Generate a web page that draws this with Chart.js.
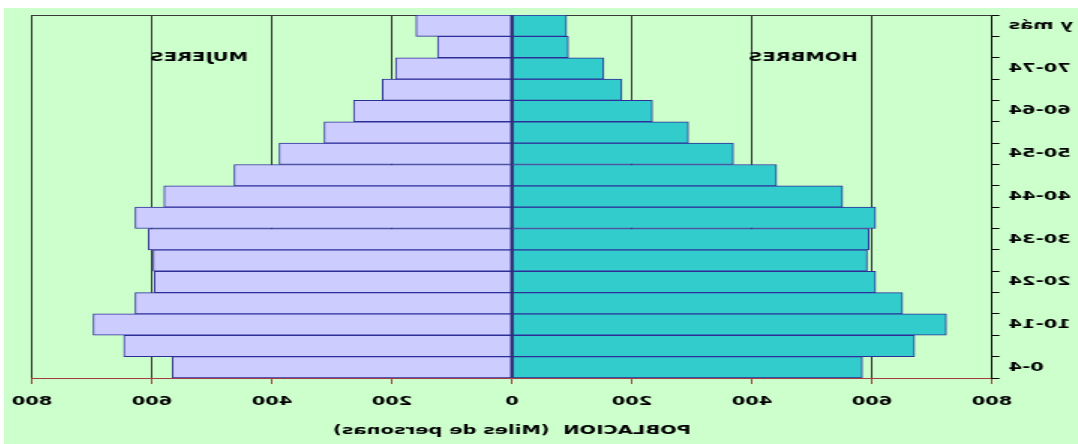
<!DOCTYPE html>
<html lang="es">
<head>
<meta charset="utf-8">
<title>Pirámide de población</title>
<script src="https://cdn.jsdelivr.net/npm/chart.js@4.4.1/dist/chart.umd.min.js"></script>
<style>
  html, body { margin: 0; padding: 0; background: #fff; overflow: hidden; }
  /* the reference is a mirrored, horizontally stretched scan: reproduce that with a transform */
  #wrap {
    position: absolute; top: 8px; left: 4px;
    width: 716px; height: 436px;
    background: #ccffcc;
    transform-origin: 0 0;
    transform: translateX(1074px) scaleX(-1.5);
  }
  canvas { display: block; }
</style>
</head>
<body>
<div id="wrap"><canvas id="pyramid" width="716" height="436"></canvas></div>
<script>
const ageGroups = ['0-4', '5-9', '10-14', '15-19', '20-24', '25-29', '30-34', '35-39', '40-44',
  '45-49', '50-54', '55-59', '60-64', '65-69', '70-74', '75-79', '80 y más'];
const hombres = [584, 671, 724, 651, 606, 592, 595, 606, 551, 441, 369, 294, 234, 183, 153, 94, 91];
const mujeres = [566, 647, 698, 628, 596, 598, 606, 628, 580, 463, 388, 313, 264, 216, 194, 124, 160];
const sexLabels = ['HOMBRES', 'MUJERES'];
const xMin = -800, xMax = 800, xStep = 200;
const axisTitle = 'POBLACION  (Miles de personas)';

const FONT = { family: '"DejaVu Sans", Verdana, sans-serif', size: 13, weight: 'bold' };

// top frame line + the HOMBRES / MUJERES captions
const framePlugin = {
  id: 'frame',
  beforeDatasetsDraw(chart) {
    const { ctx, chartArea, scales } = chart;
    ctx.save();
    ctx.strokeStyle = '#3a3a3a';
    ctx.lineWidth = 1;
    ctx.beginPath();
    ctx.moveTo(chartArea.left, chartArea.top + 0.5);
    ctx.lineTo(chartArea.right, chartArea.top + 0.5);
    ctx.stroke();

    ctx.font = 'bold 13px "DejaVu Sans", Verdana, sans-serif';
    ctx.fillStyle = '#000';
    ctx.textAlign = 'center';
    ctx.textBaseline = 'middle';
    const yPos = scales.y.getPixelForValue(14.5);
    ctx.fillText(sexLabels[0], scales.x.getPixelForValue(-485), yPos);
    ctx.fillText(sexLabels[1], scales.x.getPixelForValue(522), yPos);
    ctx.restore();
  }
};

new Chart(document.getElementById('pyramid'), {
  type: 'bar',
  data: {
    labels: ageGroups,
    datasets: [{
      label: 'Hombres',
      data: hombres.map(v => -v),
      backgroundColor: '#33cccc',
      borderColor: '#2e2e99',
      borderWidth: 1,
      borderSkipped: false,
      barPercentage: 1,
      categoryPercentage: 1
    }, {
      label: 'Mujeres',
      data: mujeres,
      backgroundColor: '#ccccff',
      borderColor: '#2e2e99',
      borderWidth: 1,
      borderSkipped: false,
      barPercentage: 1,
      categoryPercentage: 1
    }]
  },
  options: {
    indexAxis: 'y',
    responsive: false,
    animation: false,
    layout: { padding: { top: 7, right: 18.7, bottom: 0, left: 0 } },
    plugins: { legend: { display: false }, tooltip: { enabled: false } },
    scales: {
      x: {
        stacked: true,
        min: xMin,
        max: xMax,
        afterFit: (s) => { s.height = 66; s.paddingLeft = 0; s.paddingRight = 0; },
        grid: { color: '#333333', tickColor: '#a04040', tickLength: 6 },
        border: { color: '#a04040', width: 1 },
        ticks: {
          stepSize: xStep,
          padding: 10,
          color: '#000',
          font: FONT,
          callback: (v) => Math.abs(v)
        },
        title: {
          display: true,
          text: axisTitle,
          color: '#000',
          font: FONT,
          padding: { top: 0, bottom: 6 }
        }
      },
      y: {
        stacked: true,
        reverse: true,
        afterFit: (s) => { s.width = 57.3; s.paddingTop = 0; s.paddingBottom = 0; },
        grid: { drawOnChartArea: false, tickColor: '#000', tickLength: 5 },
        border: { color: '#000', width: 1 },
        ticks: {
          autoSkip: false,
          padding: 6,
          color: '#000',
          font: FONT,
          callback: (v, i) => (i % 2 === 0 ? ageGroups[i] : '')
        }
      }
    }
  },
  plugins: [framePlugin]
});
</script>
</body>
</html>
